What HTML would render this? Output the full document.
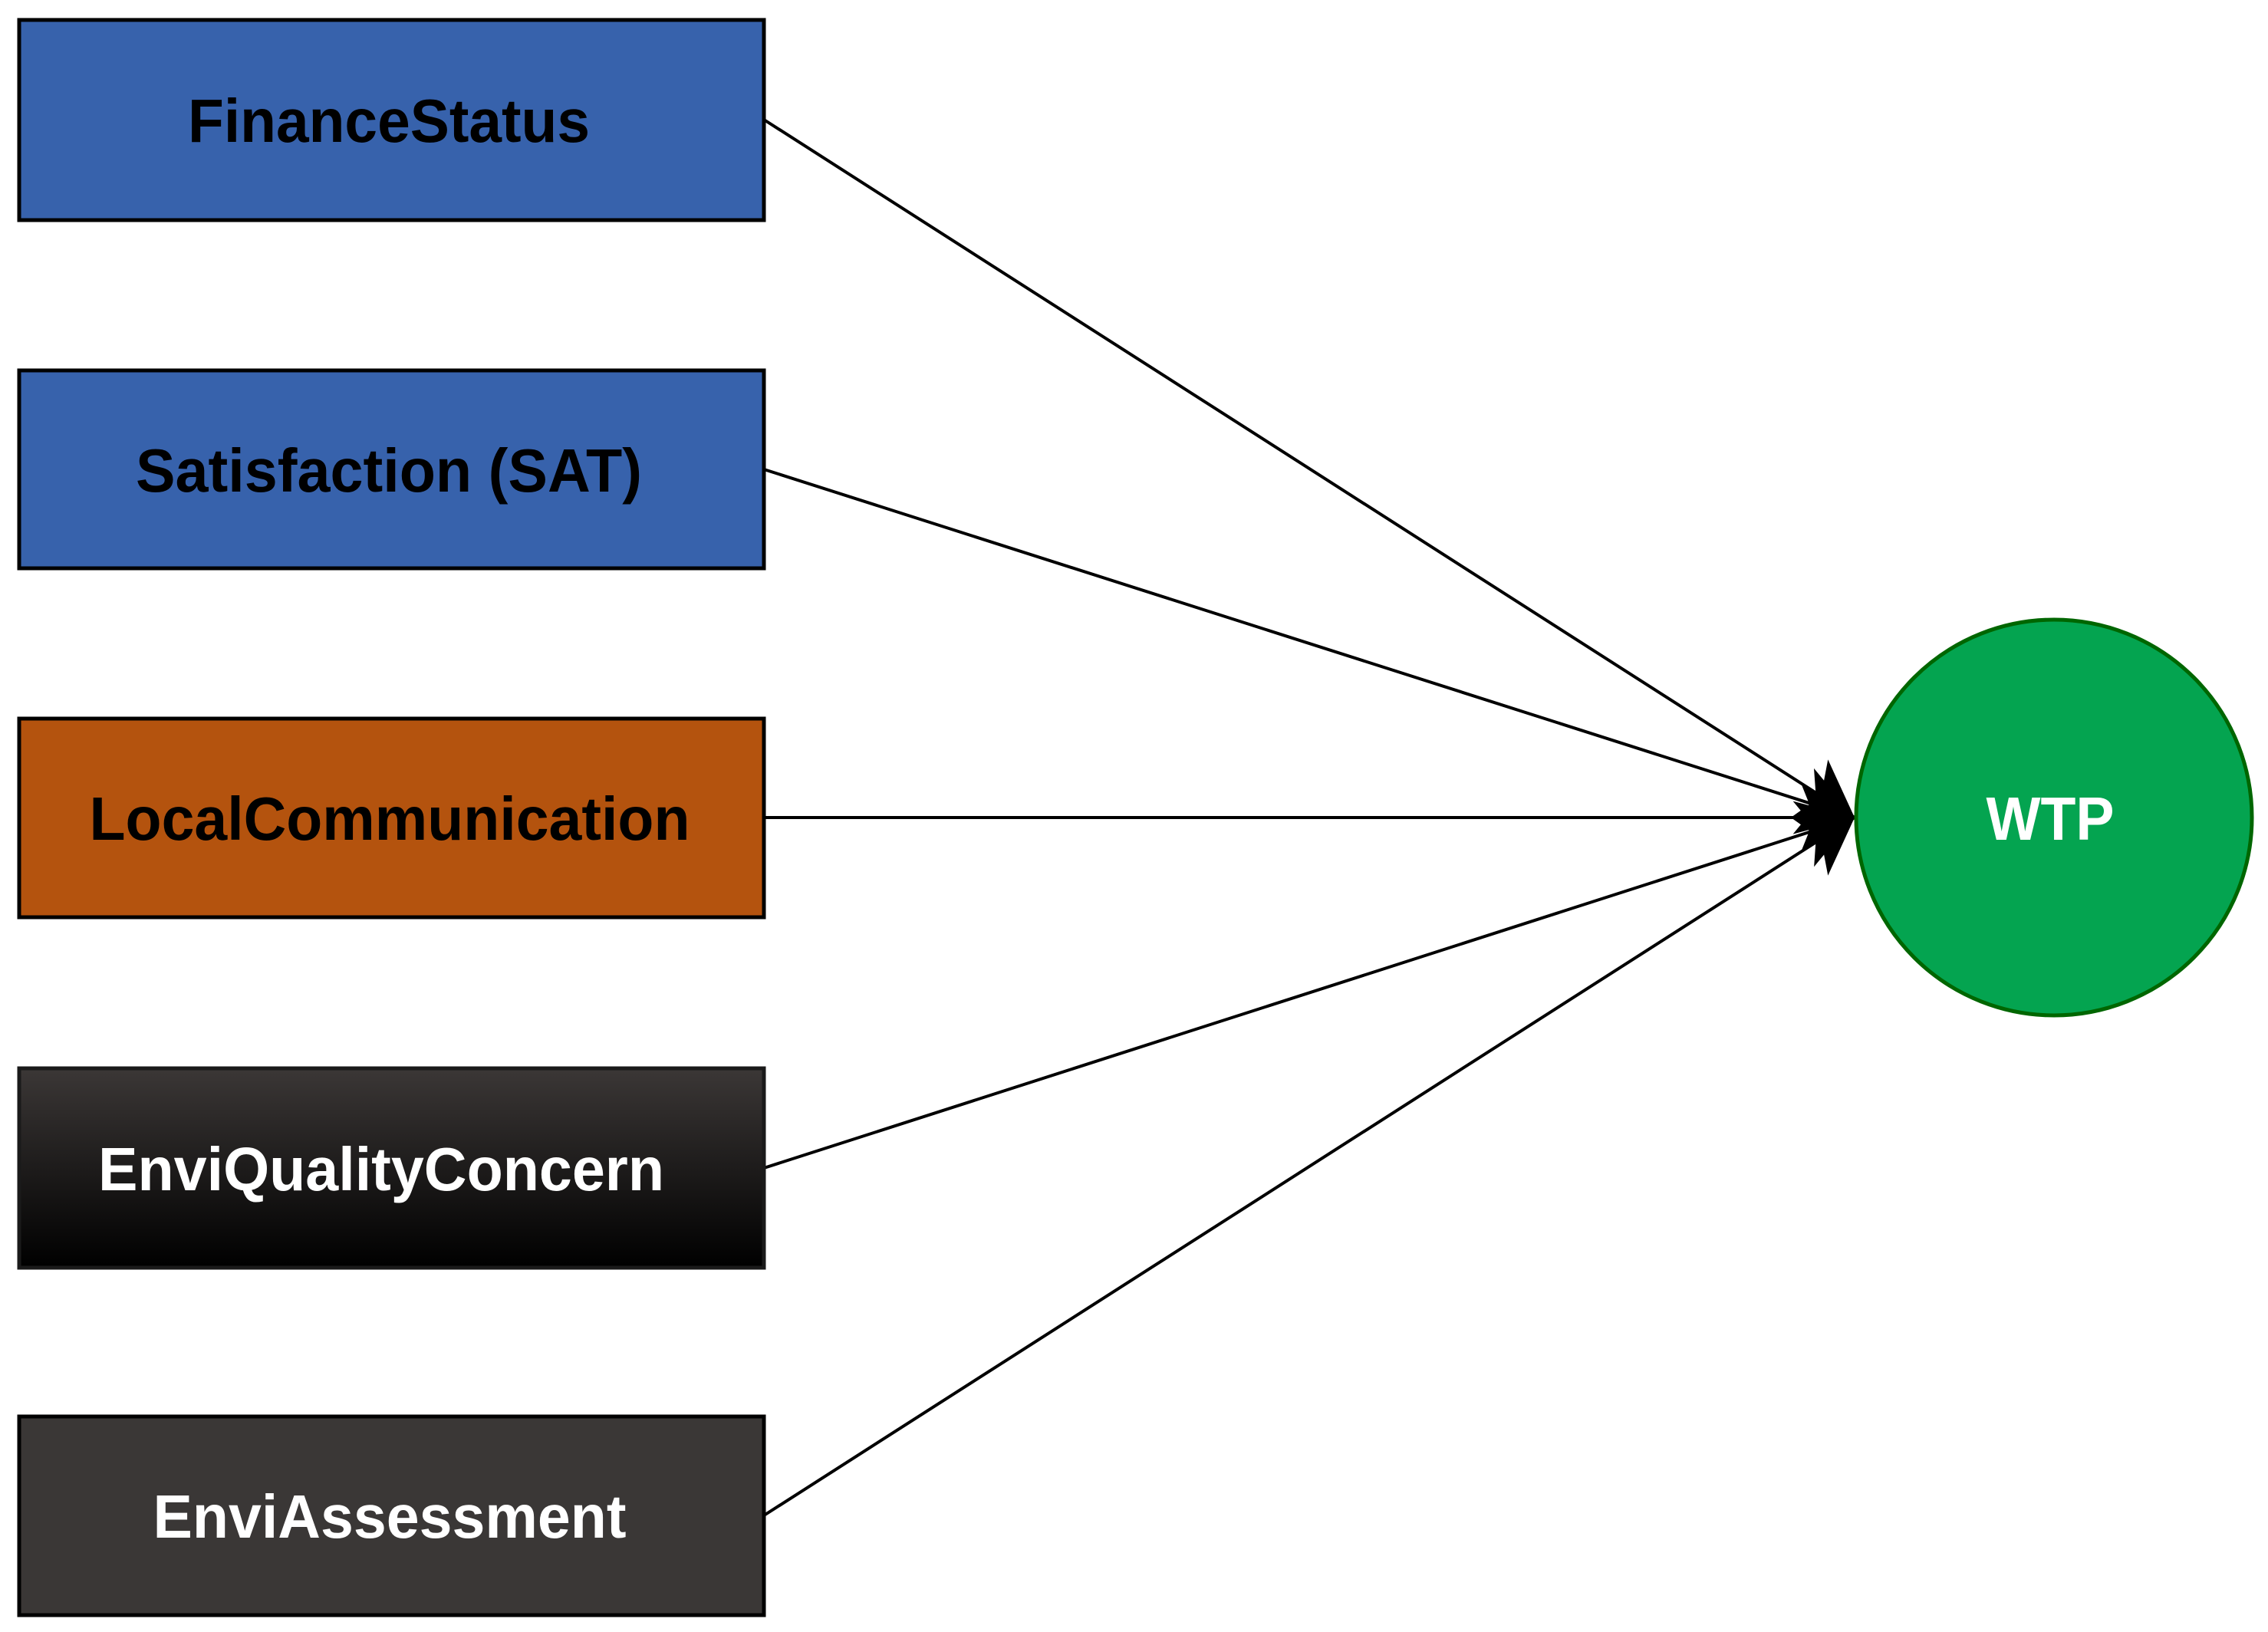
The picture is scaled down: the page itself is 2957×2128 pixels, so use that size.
<!DOCTYPE html>
<html><head><meta charset="utf-8"><style>html,body{margin:0;padding:0;background:#fff}svg{display:block}</style></head>
<body>
<svg width="2957" height="2128" viewBox="0 0 2957 2128" xmlns="http://www.w3.org/2000/svg">
<defs>
<linearGradient id="g1" x1="0" y1="0" x2="0" y2="1"><stop offset="0" stop-color="#3b3736"/><stop offset="1" stop-color="#000"/></linearGradient>
<marker id="ah" markerUnits="userSpaceOnUse" markerWidth="80" markerHeight="100" refX="70" refY="45" orient="auto">
<path d="M0,0 L70,45 L0,90 L18,45 Z" fill="#000"/>
</marker>
</defs>
<g stroke="#000" stroke-width="4" fill="none">
<line x1="996" y1="156" x2="2418" y2="1066" marker-end="url(#ah)"/>
<line x1="996" y1="612" x2="2418" y2="1066" marker-end="url(#ah)"/>
<line x1="996" y1="1066" x2="2418" y2="1066" marker-end="url(#ah)"/>
<line x1="996" y1="1523" x2="2418" y2="1066" marker-end="url(#ah)"/>
<line x1="996" y1="1976" x2="2418" y2="1066" marker-end="url(#ah)"/>
</g>
<g stroke="#000" stroke-width="5">
<rect x="25" y="26" width="971" height="261" fill="#3762ac"/>
<rect x="25" y="483" width="971" height="258" fill="#3762ac"/>
<rect x="25" y="937" width="971" height="259" fill="#b4530e"/>
<rect x="25" y="1393" width="971" height="260" fill="url(#g1)" stroke="#1a1a1a"/>
<rect x="25" y="1847" width="971" height="259" fill="#3a3736"/>
</g>
<circle cx="2678" cy="1066" r="258" fill="#04a450" stroke="#006600" stroke-width="5"/>
<g font-family="'Liberation Sans', Arial, sans-serif" font-weight="bold" font-size="80" text-anchor="middle">
<text x="507" y="185" fill="#000" textLength="524" lengthAdjust="spacingAndGlyphs">FinanceStatus</text>
<text x="507" y="641" fill="#000" textLength="660" lengthAdjust="spacingAndGlyphs">Satisfaction (SAT)</text>
<text x="508" y="1095" fill="#000" textLength="783" lengthAdjust="spacingAndGlyphs">LocalCommunication</text>
<text x="497" y="1552" fill="#fff" textLength="738" lengthAdjust="spacingAndGlyphs">EnviQualityConcern</text>
<text x="508" y="2005" fill="#fff" textLength="617" lengthAdjust="spacingAndGlyphs">EnviAssessment</text>
<text x="2673" y="1095" fill="#fff" textLength="167" lengthAdjust="spacingAndGlyphs">WTP</text>
</g>
</svg>
</body></html>
